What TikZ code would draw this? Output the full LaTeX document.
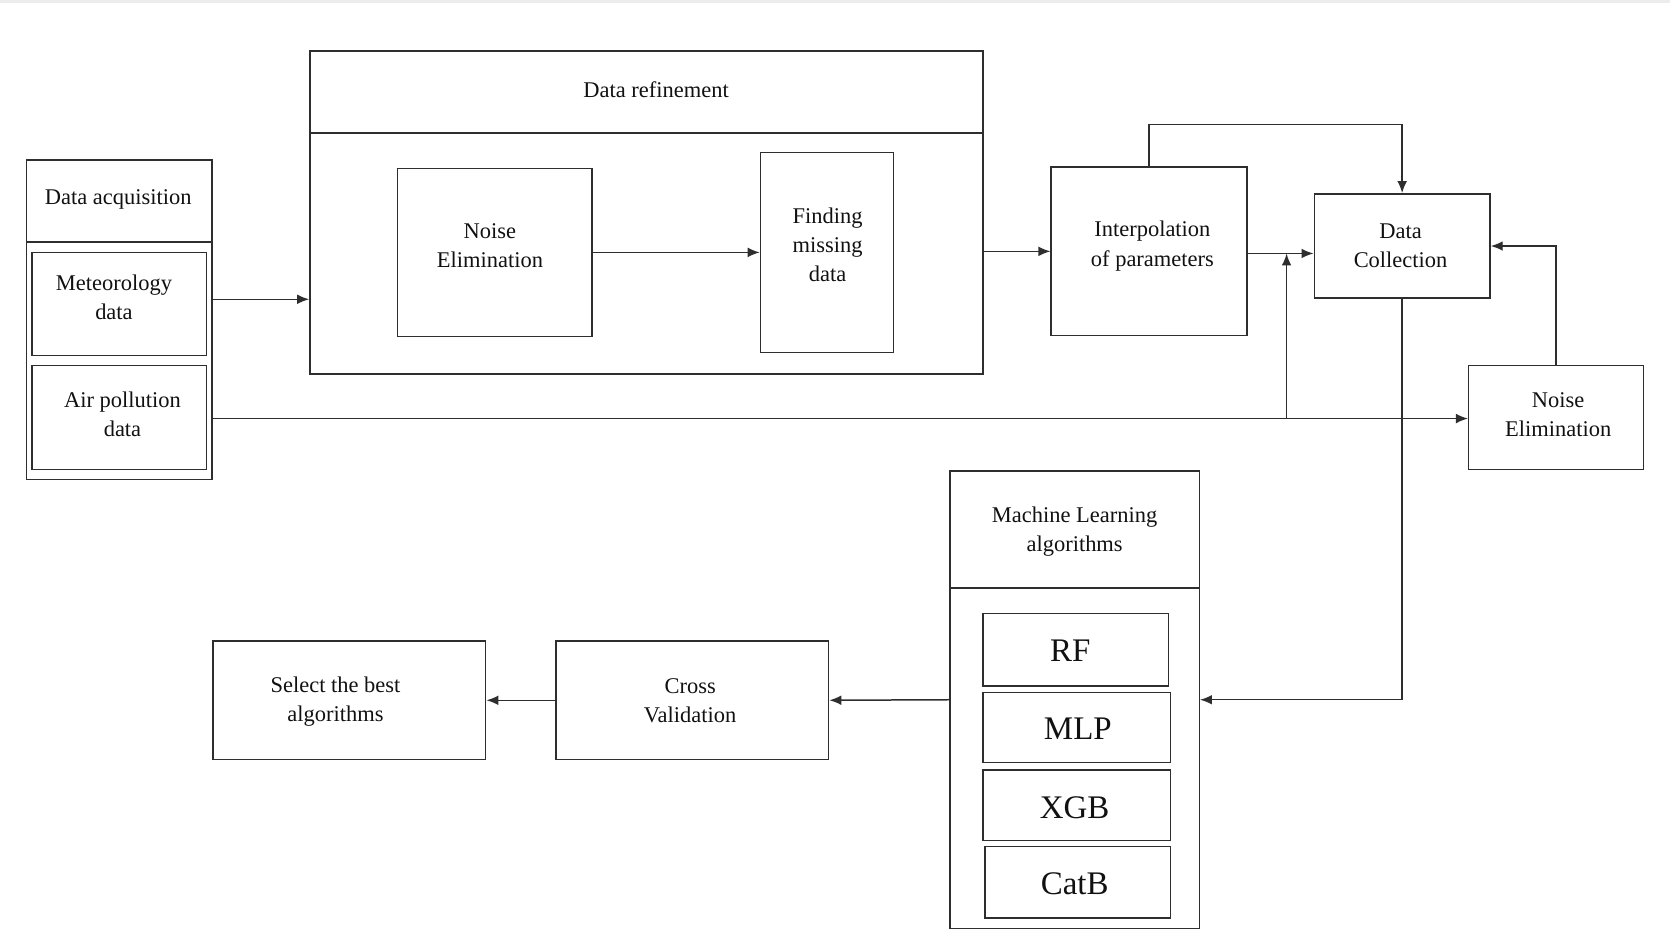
\documentclass[tikz,border=0pt]{standalone}
\usepackage{fontspec}
\setmainfont{Liberation Serif}
\usetikzlibrary{fit,arrows.meta}
\definecolor{linec}{HTML}{2E2E2E}
\definecolor{txtc}{HTML}{111111}
\begin{document}
\begin{tikzpicture}[x=0.025cm,y=-0.025cm,
  box/.style={draw=linec, line width=1pt, inner sep=0pt, fit={#1}},
  txt/.style={align=center, inner sep=0pt, font=\fontsize{15}{19.5}\selectfont, text=txtc},
  big/.style={font=\fontsize{22}{26}\selectfont},
  arr/.style={draw=linec, line width=1pt, -{Latex[length=8pt,width=6.5pt]}}]
\useasboundingbox (0,0) rectangle (1568,893);
\fill[gray!15] (0,0) rectangle (1568,3);

% Data acquisition
\node[box={(25,150) (199,450)}] (da) {};
\node[box={(25,150) (199,227)}] (dahdr) {};
\node[box={(30,237) (194,334)}] (met) {};
\node[box={(30,343) (194,441)}] (air) {};
\node[txt] (t-dahdr) at (111,187) {Data acquisition};
\node[txt] (t-met) at (107,279) {Meteorology\\data};
\node[txt] (t-air) at (115,389) {Air pollution\\data};

% Data refinement
\node[box={(291,48) (923,351)}] (dr) {};
\node[box={(291,48) (923,125)}] (drhdr) {};
\node[box={(373,158) (556,316)}] (ne1) {};
\node[box={(714,143) (839,331)}] (fmd) {};
\node[txt] (t-drhdr) at (616,84) {Data refinement};
\node[txt] (t-ne1) at (460,231) {Noise\\Elimination};
\node[txt] (t-fmd) at (777,230) {Finding\\missing\\data};

\node[box={(987,157) (1171,315)}] (interp) {};
\node[box={(1234,182) (1399,280)}] (dc) {};
\node[box={(1379,343) (1543,441)}] (ne2) {};
\node[txt] (t-interp) at (1082,231) {Interpolation\\of parameters};
\node[txt] (t-dc) at (1315,231) {Data\\Collection};
\node[txt] (t-ne2) at (1463,389) {Noise\\Elimination};

% Machine learning
\node[box={(892,442) (1126,872)}] (ml) {};
\node[box={(892,442) (1126,552)}] (mlhdr) {};
\node[box={(923,576) (1097,644)}] (rf) {};
\node[box={(923,650) (1099,716)}] (mlp) {};
\node[box={(923,723) (1099,789)}] (xgb) {};
\node[box={(925,795) (1099,862)}] (catb) {};
\node[txt] (t-mlhdr) at (1009,499) {Machine Learning\\algorithms};
\node[txt, big] (t-rf) at (1005,611) {RF};
\node[txt, big] (t-mlp) at (1012,684) {MLP};
\node[txt, big] (t-xgb) at (1009,758) {XGB};
\node[txt, big] (t-catb) at (1009,830) {CatB};

\node[box={(522,602) (778,713)}] (cv) {};
\node[box={(200,602) (456,713)}] (sel) {};
\node[txt] (t-cv) at (648,658) {Cross\\Validation};
\node[txt] (t-sel) at (315,659) {Select the best\\algorithms};

% helper coordinates
\coordinate (y281) at (0,281);
\coordinate (y238) at (0,238);
\coordinate (top) at (1200,117);
\coordinate (br) at (1208,393);

% connectors
\draw[arr] (da.east |- y281) -- (dr.west |- y281);
\draw[arr] (ne1.east) -- (fmd.west);
\draw[arr] (dr.east |- interp.west) -- (interp.west);
\draw[arr] (interp.east |- y238) -- (dc.west |- y238);
\draw[arr] (interp.north) |- (top) -| (dc.north);
\draw[arr] (da.east |- br) -- (ne2.west |- br);
\draw[arr] (br) -- (br |- y238);
\draw[arr] (ne2.north) |- (dc.east);
\draw[arr] (dc.south) |- (ml.east);
\draw[arr] (ml.west) -- (cv.east);
\draw[arr] (cv.west) -- (sel.east);
\end{tikzpicture}
\end{document}
